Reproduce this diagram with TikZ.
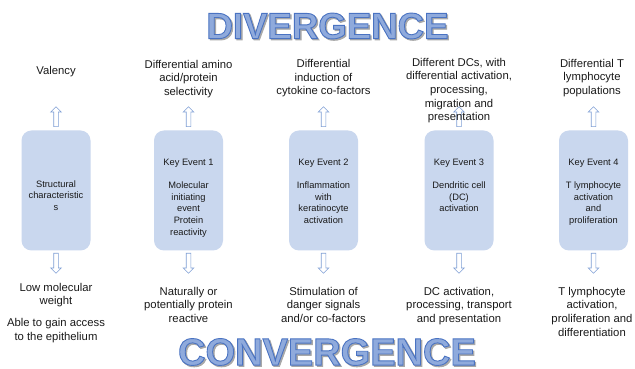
\documentclass[tikz,border=0pt]{standalone}
\usepackage{fontspec}
\setmainfont{Liberation Sans}
\usetikzlibrary{positioning,shapes.arrows}

\definecolor{titlefill}{HTML}{8FAADC}
\definecolor{shadowgray}{HTML}{A8A8A8}
\definecolor{boxfill}{HTML}{C9D7EE}
\definecolor{arrowline}{HTML}{7F9FD5}
\definecolor{textdark}{HTML}{1A1A1A}

% filled and stroked letters: #1 is the rgb of the stroke
\newcommand\outlinetext[2]{\special{pdf:literal 2 Tr 0.9 w #1 RG}#2\special{pdf:literal 0 Tr}}

\tikzset{
  event/.style={fill=boxfill, rounded corners=10pt, minimum width=69pt, minimum height=120pt, inner sep=0pt},
  eventtext/.style={align=center, inner sep=0pt, text=textdark, font=\fontsize{9.3}{11.7}\selectfont},
  outcome/.style={align=center, inner sep=0pt, anchor=north, text=textdark, font=\fontsize{11.3}{13.7}\selectfont},
  blockarrow/.style={single arrow, draw=arrowline, line width=0.6pt, minimum height=20pt, inner sep=2pt,
    single arrow head extend=3pt, anchor=tail},
  uparrow/.style={blockarrow, rotate=90},
  downarrow/.style={blockarrow, rotate=-90},
  title/.style={inner sep=0pt, font=\fontsize{36.6}{37}\selectfont\bfseries}
}

\begin{document}
\begin{tikzpicture}[x=1pt,y=1pt]
  \path[fill=white,use as bounding box] (0,0) rectangle (635,369);

  % titles, with a grey copy underneath as shadow
  \node[title, text=shadowgray] (divshadow) at (328.9,341.6) {\outlinetext{0.66 0.66 0.66}{DIVERGENCE}};
  \node[title, text=titlefill] (div) at (327.5,343) {\outlinetext{0.290 0.451 0.761}{DIVERGENCE}};
  \node[title, text=shadowgray, font=\fontsize{38}{38}\selectfont\bfseries] (convshadow) at (328.4,15.6) {\outlinetext{0.66 0.66 0.66}{CONVERGENCE}};
  \node[title, text=titlefill, font=\fontsize{38}{38}\selectfont\bfseries] (conv) at (327,17) {\outlinetext{0.290 0.451 0.761}{CONVERGENCE}};

  % the five boxes
  \node[event] (ke0) at (56,178.5) {};
  \node[event] (ke1) at (188.5,178.5) {};
  \node[event] (ke2) at (323.5,178.5) {};
  \node[event] (ke3) at (459,178.5) {};
  \node[event] (ke4) at (593.5,178.5) {};

  % hollow arrows above and below every box
  \foreach \x/\n in {56/0,188.5/1,323.5/2,459/3,593.5/4} {
    \node[uparrow] (up\n) at (\x,242) {};
    \node[downarrow] (down\n) at (\x,116) {};
  }

  % text inside the boxes
  \node[eventtext, below=50pt of ke0.north] (in0) {Structural\\characteristic\\s};
  \node[eventtext, below=28.2pt of ke1.north] (in1) {Key Event 1\\[11.7pt]Molecular\\initiating\\event\\Protein\\reactivity};
  \node[eventtext, below=28.2pt of ke2.north] (in2) {Key Event 2\\[11.7pt]Inflammation\\with\\keratinocyte\\activation};
  \node[eventtext, below=28.2pt of ke3.north] (in3) {Key Event 3\\[11.7pt]Dendritic cell\\(DC)\\activation};
  \node[eventtext, below=28.2pt of ke4.north] (in4) {Key Event 4\\[11.7pt]T lymphocyte\\activation\\and\\proliferation};

  % divergence side (top)
  \node[outcome] (top0) at (56,303.3) {Valency};
  \node[outcome] (top1) at (188.5,309.3) {Differential amino\\acid/protein\\selectivity};
  \node[outcome] (top2) at (323.5,309.8) {Differential\\induction of\\cytokine co-factors};
  \node[outcome] (top3) at (459,311.3) {Different DCs, with\\differential activation,\\processing,\\migration and\\presentation};
  \node[outcome] (top4) at (592,310.3) {Differential T\\lymphocyte\\populations};

  % convergence side (bottom)
  \node[outcome] (bot0) at (56,86.3) {Low molecular\\weight\\[8pt]Able to gain access\\to the epithelium};
  \node[outcome] (bot1) at (188.5,82.3) {Naturally or\\potentially protein\\reactive};
  \node[outcome] (bot2) at (323.5,82.3) {Stimulation of\\danger signals\\and/or co-factors};
  \node[outcome] (bot3) at (459,82.3) {DC activation,\\processing, transport\\and presentation};
  \node[outcome] (bot4) at (592,82.3) {T lymphocyte\\activation,\\proliferation and\\differentiation};
\end{tikzpicture}
\end{document}
